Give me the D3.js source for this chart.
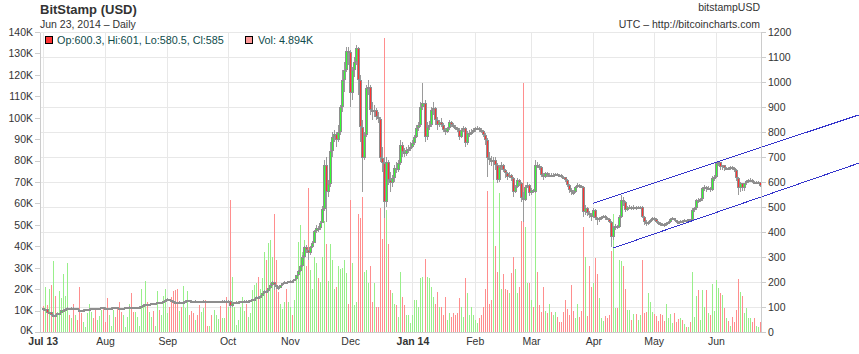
<!DOCTYPE html>
<html><head><meta charset="utf-8">
<script src="https://cdn.jsdelivr.net/npm/d3@7"></script>
<style>
body{margin:0;background:#fff;}
svg{display:block;font-family:"Liberation Sans",Arial,Helvetica,sans-serif;}
</style></head><body>
<svg id="c" width="859" height="354"></svg>
<script>
// ---------- DATA (BitStamp daily, Jul 1 2013 .. Jun 23 2014) ----------
const title = "BitStamp (USD)";
const symbol = "bitstampUSD";
const source = "UTC \u2013 http://bitcoincharts.com";
const firstDay = "2013-07-01";
const lastDay = "2014-06-23";

const opens = [
/*Jul*/ 97.5,88,90.4,78,80,68,70,69,76,76.5,88,89,93,97,94,98,96,97,90,89,88,89.5,91,92,94,95.5,95,94,96,97,99,
/*Aug*/ 98,97,96.5,97,98,99,98.5,97.5,97,96,97.5,99,100,101.5,100,99,100,101,102,104,110,112,111,113,115,114,116,119,118,120,124,
/*Sep*/ 129,131,127,126,122,120,119,121,120,122,125,127,126,125,124,125,124,123,124,125,124,123,123.5,122,123,124,124.5,124,125,125.5,
/*Oct*/ 125,126,104,116,120,121,122,123,124,126,125,126,127,131,134,140,138,146,155,164,163,175,190,199,186,182,177,187,195,199,197,
/*Nov*/ 203,206,205,212,226,245,265,300,338,327,315,341,357,404,417,415,438,492,670,560,590,723,780,794,767,800,901,1007,1049,1124,
/*Dec*/ 1121,955,1048,1080,1136,1010,820,696,788,975,982,888,880,888,861,853,696,676,521,680,608,595,615,655,650,676,748,720,713,727,733,
/*Jan*/ 740,755,781,815,828,901,915,781,821,828,888,895,848,828,841,830,808,801,815,841,828,821,815,808,781,808,815,755,795,797,801,
/*Feb*/ 808,815,816,808,804,788,768,696,688,681,690,668,608,661,668,648,635,621,628,615,561,581,608,595,535,530,581,588,
/*Mar*/ 555,568,561,668,665,661,628,621,635,628,630,628,630,632,630,629,621,620,608,588,568,561,560,581,588,585,581,481,495,476,468,
/*Apr*/ 460,488,455,448,455,461,464,455,453,441,380,421,423,420,461,528,521,488,501,502,495,501,497,499,501,461,441,435,441,448,
/*May*/ 455,451,441,435,432,431,428,437,441,451,455,448,441,440,444,443,448,447,451,448,488,495,528,526,531,575,580,575,577,568,615,
/*Jun*/ 621,675,680,660,667,655,657,655,660,656,648,615,575,595,575,595,604,608,609,601,598,599,600.3
];
const highs = [
/*Jul*/ 98,92,91,82,81,72,72,78,78,89,92,95,99,98,99,99,98,97.5,92,90,91,92,93,95,97,97,96,97,98,101,100,
/*Aug*/ 99,98,98,99,100,100,99,98,98,98,100,101,103,102,101,101,102,103,105,111,114,113,114,116,116,117,121,120,121,126,132,
/*Sep*/ 136,133,129,127,123,122,123,122,124,127,130,128,127,126,127,126,125,126,127,126,125,125,125,124.5,126,126,126,127,127,127,
/*Oct*/ 128,127,120,122,123,124,125,126,128,128,128,129,134,137,143,145,149,158,170,168,178,195,206,200,190,185,190,197,203,200,206,
/*Nov*/ 210,210,214,230,250,270,310,345,350,330,345,365,410,430,425,445,505,690,700,610,760,800,810,800,830,910,1050,1080,1140,1140,
/*Dec*/ 1130,1060,1100,1150,1140,1030,850,800,990,1010,990,920,910,895,880,860,740,700,700,690,640,630,670,680,690,770,760,735,740,750,760,
/*Jan*/ 770,790,830,840,920,995,930,840,845,900,920,900,860,850,855,835,815,820,850,845,835,830,820,815,815,825,820,805,810,812,815,
/*Feb*/ 820,825,822,815,810,795,775,720,705,700,700,675,670,680,672,652,640,640,632,620,590,615,612,600,560,590,600,592,
/*Mar*/ 575,572,690,680,672,665,635,640,640,636,635,636,638,637,634,632,626,622,612,592,575,570,585,595,593,590,585,510,500,485,475,
/*Apr*/ 495,492,462,460,465,470,468,460,458,445,425,432,430,470,548,540,525,505,510,505,508,505,503,505,505,465,450,445,452,460,
/*May*/ 460,455,445,440,438,436,440,445,455,460,457,450,446,448,448,451,450,453,453,495,500,532,535,535,580,590,585,583,580,625,630,
/*Jun*/ 680,685,682,670,670,662,662,665,665,660,652,620,600,598,598,610,614,615,612,605,603,604,601
];
const lows = [
/*Jul*/ 86,86,76,76,65,66,66,68,74,75,86,88,92,93,93,95,95,88,87,86,87,89,90,91,93,94,93,93,95,96,96,
/*Aug*/ 95,95,95,96,97,97,96,96,94,95,97,98,99,98,96,98,99,100,101,103,108,109,110,112,112,113,115,116,117,119,123,
/*Sep*/ 127,124,123,119,117,115,117,118,118,121,123,124,123,122,122,122,121,122,123,122,121,121.5,120,120.5,122,123,122,123,124,123,
/*Oct*/ 123,95,100,114,118,120,120,121,122,123,123,125,126,129,132,132,137,145,152,155,161,173,185,170,174,168,175,185,193,194,195,
/*Nov*/ 200,202,204,210,225,240,262,298,315,290,310,337,355,395,400,410,435,485,440,540,580,700,760,740,760,790,880,960,1040,1070,
/*Dec*/ 900,930,1020,1070,950,760,560,690,780,950,870,850,860,850,835,680,640,455,500,590,560,580,600,635,640,670,700,700,705,715,725,
/*Jan*/ 735,750,775,805,820,890,760,770,810,820,870,830,810,820,820,800,790,795,810,820,815,810,800,770,775,800,740,750,780,790,795,
/*Feb*/ 800,810,802,795,780,750,620,670,665,610,650,595,600,650,640,615,610,615,605,540,555,575,585,520,440,525,575,545,
/*Mar*/ 550,555,558,655,650,620,610,615,620,622,620,622,625,624,622,615,612,600,580,555,550,548,555,575,578,575,460,470,465,455,445,
/*Apr*/ 455,450,430,440,450,455,450,448,435,340,370,410,412,415,455,505,480,485,493,488,490,490,492,493,455,430,425,430,438,444,
/*May*/ 446,438,430,425,424,420,425,433,437,447,444,436,435,438,439,441,443,445,444,445,480,490,515,520,525,565,560,568,560,565,605,
/*Jun*/ 615,665,650,650,645,648,648,650,650,640,605,550,560,565,565,590,598,600,595,592,592,595,580.5
];
const closes = [
/*Jul*/ 88,90.4,78,80,68,70,69,76,76.5,88,89,93,97,94,98,96,97,90,89,88,89.5,91,92,94,95.5,95,94,96,97,99,98,
/*Aug*/ 97,96.5,97,98,99,98.5,97.5,97,96,97.5,99,100,101.5,100,99,100,101,102,104,110,112,111,113,115,114,116,119,118,120,124,129,
/*Sep*/ 131,127,126,122,120,119,121,120,122,125,127,126,125,124,125,124,123,124,125,124,123,123.5,122,123,124,124.5,124,125,125.5,125,
/*Oct*/ 126,104,116,120,121,122,123,124,126,125,126,127,131,134,140,138,146,155,164,163,175,190,199,186,182,177,187,195,199,197,203,
/*Nov*/ 206,205,212,226,245,265,300,338,327,315,341,357,404,417,415,438,492,670,560,590,723,780,794,767,800,901,1007,1049,1124,1121,
/*Dec*/ 955,1048,1080,1136,1010,820,696,788,975,982,888,880,888,861,853,696,676,521,680,608,595,615,655,650,676,748,720,713,727,733,740,
/*Jan*/ 755,781,815,828,901,915,781,821,828,888,895,848,828,841,830,808,801,815,841,828,821,815,808,781,808,815,755,795,797,801,808,
/*Feb*/ 815,816,808,804,788,768,696,688,681,690,668,608,661,668,648,635,621,628,615,561,581,608,595,535,530,581,588,555,
/*Mar*/ 568,561,668,665,661,628,621,635,628,630,628,630,632,630,629,621,620,608,588,568,561,560,581,588,585,581,481,495,476,468,460,
/*Apr*/ 488,455,448,455,461,464,455,453,441,380,421,423,420,461,528,521,488,501,502,495,501,497,499,501,461,441,435,441,448,455,
/*May*/ 451,441,435,432,431,428,437,441,451,455,448,441,440,444,443,448,447,451,448,488,495,528,526,531,575,580,575,577,568,615,621,
/*Jun*/ 675,680,660,667,655,657,655,660,656,648,615,575,595,575,595,604,608,609,601,598,599,600.3,585
];
// volume in thousands of BTC
const volumes = [
/*Jul*/ 12,21,12.6,20,22,33,17,9.5,19,16,27,17,32,8,6.4,13,8,5.6,21,9,4.8,2.5,9,13,9.5,6.4,11,5.6,7.5,10.5,11.8,
/*Aug*/ 4.8,16,8,2.8,10.5,7,11.8,14,9.5,8,2.2,7,13,18,9.5,9.5,7,3,20,13,24,14,9.5,7,10,3,19,10.5,8,17,20,
/*Sep*/ 8.7,11.8,16.5,19,19.5,20,10,11.8,21.6,11,19,8,10,8.7,5.6,8,12.6,9.2,11,15,2.8,2.8,8,10.5,8,6,12,6.4,6.4,16.5,
/*Oct*/ 11.8,61.6,25.8,11.8,3.3,5.6,11.8,16.5,10,13,7,8.7,19.6,22,22.7,25.8,20,25,37.5,33.6,41.4,43,35,55,33.6,18.8,13,10.9,14,20,14,
/*Nov*/ 11.8,8,15,26.5,42,50,37.5,43,31,67,29,20,35,32,25,23.4,35,52,41,24,41,33.6,20,21,31,29.5,30,33.6,27.5,13,
/*Dec*/ 61.6,32,12.6,14,55,53,63,28,29,22.7,31,14,22.7,11.8,11.8,58,43.6,137,57,41,19.6,18,13,12.6,7,28,16.5,12.6,8,8,4,
/*Jan*/ 8,15,15,11.8,25,25.8,34,25.8,25,21,16.5,13,18.8,11.8,11.8,8,16.5,5.6,8.7,7,8.7,8,8.7,15.7,11.8,7,25,18,8,11.8,8,
/*Feb*/ 5.6,4,6.4,8,11.8,20,66,13,15,72,40,28,65,20,27,20,19.6,18,27.5,35,29.5,18,21,52,116,49,22.7,22.7,
/*Mar*/ 15,11.8,66,28,12.6,9.5,21,10,8.7,13,9.5,8,9.5,7,4.8,4.8,9.5,15,10.9,8,22,10,6.4,13,7,10,49,35,7.5,31,21,
/*Apr*/ 23,34.4,27,15.7,6.7,5,7.5,6.4,8,38,55,11,11,33.6,33,31,20,10.3,10.3,5.6,8.4,8.4,5.6,8,33.6,9,9.5,18.4,14,9.5,
/*May*/ 8.2,7.5,5.3,8.4,8,5,13,6.7,8.2,4.4,8.7,4.5,5.9,6.4,5.6,3.6,2.2,2.2,4.8,28,6.8,17,19.6,5.6,19.6,11.5,19.6,8.7,8,22.4,9.8,
/*Jun*/ 24.3,20.4,18,17.3,11,6.4,5,2.8,6.8,4.8,10.3,24.7,18.8,16.8,9,11,6.4,6.4,4.8,6.4,2.8,2.5,4.894
];

// axis ticks
const priceTicks = [0,100,200,300,400,500,600,700,800,900,1000,1100,1200];
const volumeTicks = [0,10,20,30,40,50,60,70,80,90,100,110,120,130,140];
const monthTicks = ["2013-07-01","2013-08-01","2013-09-01","2013-10-01","2013-11-01","2013-12-01",
                    "2014-01-01","2014-02-01","2014-03-01","2014-04-01","2014-05-01","2014-06-01"];
const monthLabels = ["Jul 13","Aug","Sep","Oct","Nov","Dec","Jan 14","Feb","Mar","Apr","May","Jun"];

// channel (trend) lines drawn on the chart
const trendFrom = ["2014-04-01","2014-04-11"];
const trendFromPrice = [515, 336];
const trendTo = ["2014-08-11","2014-08-11"];
const trendToPrice = [868, 675];

// ---------- DRAWING ----------
const parse = d3.utcParse("%Y-%m-%d");
const days = d3.utcDay.range(parse(firstDay), d3.utcDay.offset(parse(lastDay), 1));
const N = days.length;
if ([opens,highs,lows,closes,volumes].some(a => a.length !== N)) console.error("length mismatch", N, opens.length, highs.length, lows.length, closes.length, volumes.length);

const L = 40, R = 761, T = 32, B = 332;
const DAY = 864e5;
const x = d3.scaleUtc()
  .domain([new Date(+parse(firstDay) - 1.34*DAY), new Date(+parse(lastDay) + 0.45*DAY)])
  .range([L, R]);
const yP = d3.scaleLinear().domain([0, 1200]).range([B, T]);
const yV = d3.scaleLinear().domain([0, 140]).range([B, T]);

const svg = d3.select("#c");
const gridColor = "#e8e8e8";
const axisColor = "#cccccc";
const textColor = "#333";

// grid
const grid = svg.append("g").attr("shape-rendering","crispEdges");
grid.selectAll("line.h").data(priceTicks).join("line").attr("class","h")
  .attr("x1", L).attr("x2", R)
  .attr("y1", d => Math.round(yP(d)) + 0.5).attr("y2", d => Math.round(yP(d)) + 0.5)
  .attr("stroke", gridColor);
grid.selectAll("line.v").data(monthTicks.map(parse)).join("line").attr("class","v")
  .attr("x1", d => Math.round(x(d)) + 0.5).attr("x2", d => Math.round(x(d)) + 0.5)
  .attr("y1", T).attr("y2", B)
  .attr("stroke", gridColor);

// volume bars
const up = i => closes[i] >= opens[i];
svg.append("g").attr("shape-rendering","crispEdges")
  .selectAll("rect").data(d3.range(N)).join("rect")
  .attr("x", i => Math.round(x(days[i])))
  .attr("width", 1)
  .attr("y", i => yV(volumes[i]))
  .attr("height", i => B - yV(volumes[i]))
  .attr("fill", i => up(i) ? "#98ef8a" : "#ff8e8e");

// candles
const cg = svg.append("g").attr("shape-rendering","crispEdges");
const candle = cg.selectAll("g").data(d3.range(N)).join("g");
candle.append("line")
  .attr("x1", i => Math.round(x(days[i])) + 0.5).attr("x2", i => Math.round(x(days[i])) + 0.5)
  .attr("y1", i => yP(highs[i])).attr("y2", i => yP(lows[i]))
  .attr("stroke", "#9a9a9a");
const bodyTop = i => Math.round(yP(Math.max(opens[i], closes[i])));
const bodyH = i => Math.max(2, Math.round(yP(Math.min(opens[i], closes[i]))) - bodyTop(i));
candle.append("rect")
  .attr("x", i => Math.round(x(days[i])) - 1).attr("width", 3)
  .attr("y", bodyTop).attr("height", bodyH)
  .attr("fill", "#8e8e8e");
candle.filter(i => bodyH(i) > 2).append("rect")
  .attr("x", i => Math.round(x(days[i]))).attr("width", 1)
  .attr("y", i => bodyTop(i) + 1).attr("height", i => bodyH(i) - 2)
  .attr("fill", i => up(i) ? "#33ff33" : "#ff3333");

// trend channel
svg.append("g").attr("shape-rendering","crispEdges")
  .selectAll("line").data(d3.range(trendFrom.length)).join("line")
  .attr("x1", i => x(parse(trendFrom[i]))).attr("y1", i => yP(trendFromPrice[i]))
  .attr("x2", i => x(parse(trendTo[i]))).attr("y2", i => yP(trendToPrice[i]))
  .attr("stroke", "#3535cc").attr("stroke-width", 1);

// axes
function styleAxis(g){
  g.select(".domain").attr("stroke", axisColor).attr("shape-rendering","crispEdges");
  g.selectAll(".tick line").attr("stroke", axisColor).attr("shape-rendering","crispEdges");
  g.selectAll(".tick text").attr("fill", textColor).style("font-size","10.5px")
    .style("font-family",'"Liberation Sans",Arial,sans-serif');
}
svg.append("g").attr("transform", `translate(${L},0)`)
  .call(d3.axisLeft(yV).tickValues(volumeTicks).tickFormat(d => d + "K").tickSize(5).tickSizeOuter(0).tickPadding(2))
  .call(styleAxis)
  .call(g => g.selectAll(".tick text").attr("dy", d => d === 0 ? "0.1em" : "0.32em"));
svg.append("g").attr("transform", `translate(${R},0)`)
  .call(d3.axisRight(yP).tickValues(priceTicks).tickFormat(d3.format("d")).tickSize(5).tickSizeOuter(0).tickPadding(2))
  .call(styleAxis);
const xa = svg.append("g").attr("transform", `translate(0,${B})`)
  .call(d3.axisBottom(x).tickValues(monthTicks.map(parse)).tickFormat((d,i) => monthLabels[i]).tickSize(0).tickSizeOuter(0).tickPadding(6))
  .call(styleAxis);
xa.selectAll(".tick text").style("font-weight", (d,i) => monthLabels[i].includes(" ") ? "bold" : "normal");

// header texts
svg.append("text").attr("x", 40).attr("y", 14).text(title)
  .attr("fill", textColor).style("font-size","13px").style("font-weight","bold");
svg.append("text").attr("x", 40).attr("y", 28)
  .text(d3.utcFormat("%b %d, %Y")(days[N-1]) + " \u2013 Daily")
  .attr("fill", textColor).style("font-size","10.5px");
svg.append("text").attr("x", 760).attr("y", 11).attr("text-anchor","end").text(symbol)
  .attr("fill", textColor).style("font-size","10.5px");
svg.append("text").attr("x", 760).attr("y", 27.5).attr("text-anchor","end").text(source)
  .attr("fill", textColor).style("font-size","10.5px");

// legend
const last = N - 1;
const legendColor = "#0f4b4b";
svg.append("rect").attr("x", 45.5).attr("y", 36.5).attr("width", 7).attr("height", 7)
  .attr("fill", up(last) ? "#33ff33" : "#ff3333").attr("stroke", "#000");
svg.append("text").attr("x", 57).attr("y", 43.5)
  .text(`Op:${opens[last]}, Hi:${highs[last]}, Lo:${lows[last]}, Cl:${closes[last]}`)
  .attr("fill", legendColor).style("font-size","10.8px");
svg.append("rect").attr("x", 245.5).attr("y", 36.5).attr("width", 7).attr("height", 7)
  .attr("fill", "#ff9999").attr("stroke", "#000");
svg.append("text").attr("x", 258).attr("y", 43.5)
  .text(`Vol: ${volumes[last].toFixed(3)}K`)
  .attr("fill", legendColor).style("font-size","10.8px");
</script>
</body></html>
